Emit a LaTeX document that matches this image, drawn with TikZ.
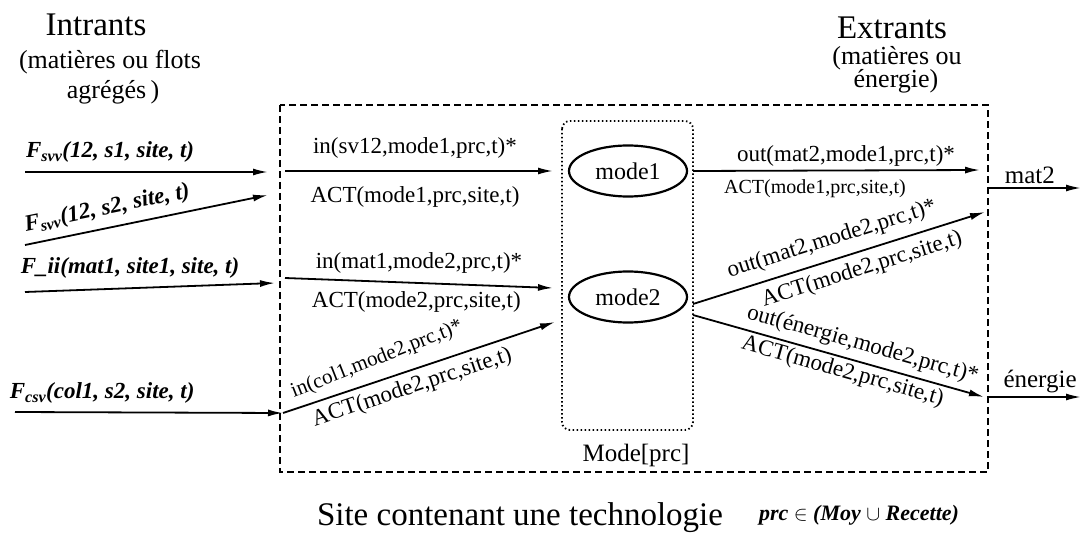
\documentclass[tikz,border=0pt]{standalone}
\usepackage{fontspec}
\setmainfont{Liberation Serif}
\usetikzlibrary{arrows.meta,shapes.geometric}
\begin{document}
\begin{tikzpicture}[x=1pt,y=-1pt,
  arr/.style={line width=1.8pt,-{Latex[length=15pt,width=7pt]}},
  lbl/.style={font=\fontsize{23}{26}\selectfont, inner sep=0pt, anchor=center},
  slbl/.style={font=\fontsize{20}{24}\selectfont, inner sep=0pt, anchor=center},
  flbl/.style={font=\fontsize{23}{26}\selectfont\bfseries\itshape, inner sep=0pt, anchor=center},
  head/.style={font=\fontsize{33}{36}\selectfont, inner sep=0pt},
  subhead/.style={font=\fontsize{26}{30}\selectfont, inner sep=0pt},
  outlbl/.style={font=\fontsize{25}{28}\selectfont, inner sep=0pt},
  sitebox/.style={line width=1.8pt, dash pattern=on 7pt off 4pt},
  modebox/.style={line width=1.8pt, dash pattern=on 1.5pt off 2.5pt, rounded corners=8pt},
  modeshape/.style={ellipse, draw, line width=2.2pt, minimum width=118pt, minimum height=51pt, inner sep=0pt, font=\fontsize{24}{26}\selectfont}
]
\useasboundingbox (0,0) rectangle (1083,537);

% headings
\node[head] (intr) at (96,25) {Intrants};
\node[subhead] (intr1) at (110,62) {(matières ou flots};
\node[subhead] (intr2) at (113,92) {agrégés\,)};
\node[head] (extr) at (892,28) {Extrants};
\node[subhead] (extr1) at (897,58) {(matières ou};
\node[subhead] (extr2) at (896,81) {énergie)};

% containers
\draw[sitebox] (280,105) rectangle (988,472);
\draw[modebox] (562,121) rectangle (693,430);
\node[outlbl] (modeprc) at (636,455) {Mode[prc]};

% modes
\node[modeshape] (mode1) at (628,171) {mode1};
\node[modeshape] (mode2) at (628,297) {mode2};

% coordinates
\coordinate (a1s) at (25,172);  \coordinate (a1e) at (268,172);
\coordinate (a2s) at (25,245);  \coordinate (a2e) at (268,195);
\coordinate (a3s) at (25,292);  \coordinate (a3e) at (275,283);
\coordinate (a4s) at (15,412);  \coordinate (a4e) at (283,413);
\coordinate (a5s) at (285,171); \coordinate (a5e) at (553,171);
\coordinate (a6s) at (285,278); \coordinate (a6e) at (553,288);
\coordinate (a7e) at (555,322);
\coordinate (a8s) at (693,171); \coordinate (a8e) at (980,170);
\coordinate (a9s) at (693,304); \coordinate (a9e) at (985,212);
\coordinate (a10s) at (693,315); \coordinate (a10e) at (984,397);
\coordinate (o1s) at (988,188); \coordinate (o1e) at (1081,188);
\coordinate (o2s) at (988,397); \coordinate (o2e) at (1081,397);

% inputs
\draw[arr] (a1s) -- node[flbl, pos=.35, yshift=20pt] (l1) {F\textsubscript{svv}(12, s1, site, t)} (a1e);
\draw[arr] (a2s) -- node[flbl, pos=.354, sloped, yshift=19pt] (l2) {F\textsubscript{svv}(12, s2, site, t)} (a2e);
\draw[arr] (a3s) -- node[flbl, pos=.42, yshift=20pt] (l3) {F\_ii(mat1, site1, site, t)} (a3e);
\draw[arr] (a4s) -- node[flbl, pos=.325, yshift=19pt] (l4) {F\textsubscript{csv}(col1, s2, site, t)} (a4e);

% inside, to modes
\draw[arr] (a5s) -- node[lbl, pos=.485, yshift=23pt] (l5a) {in(sv12,mode1,prc,t)*}
                   node[lbl, pos=.485, yshift=-26pt] (l5b) {ACT(mode1,prc,site,t)} (a5e);
\draw[arr] (a6s) -- node[lbl, pos=.5, yshift=20pt] (l6a) {in(mat1,mode2,prc,t)*}
                   node[lbl, pos=.49, yshift=-19.5pt] (l6b) {ACT(mode2,prc,site,t)} (a6e);
\draw[arr] (a4e) -- node[font=\fontsize{21}{24}\selectfont, inner sep=0pt, pos=.37, sloped, yshift=21pt, rotate=3] (l7a) {in(col1,mode2,prc,t)*}
                   node[lbl, pos=.455, sloped, yshift=-17pt] (l7b) {ACT(mode2,prc,site,t)} (a7e);

% outputs of modes
\draw[arr] (a8s) -- node[lbl, pos=.533, yshift=14pt] (l8a) {out(mat2,mode1,prc,t)*}
                   node[slbl, pos=.425, yshift=-18pt] (l8b) {ACT(mode1,prc,site,t)} (a8e);
\draw[arr] (a9s) -- node[lbl, pos=.496, sloped, yshift=20pt] (l9a) {out(mat2,mode2,prc,t)*}
                   node[lbl, pos=.56, sloped, yshift=-18pt] (l9b) {ACT(mode2,prc,site,t)} (a9e);
\draw[arr] (a10s) -- node[lbl, pos=.567, sloped, yshift=17pt] (l10a) {out(énergie,mode2,prc,t)*}
                    node[lbl, pos=.527, sloped, yshift=-14pt] (l10b) {ACT(mode2,prc,site,t)} (a10e);

% site outputs
\draw[arr] (o1s) -- node[outlbl, pos=.45, yshift=13pt] (mat2) {mat2} (o1e);
\draw[arr] (o2s) -- node[outlbl, pos=.56, yshift=15pt] (energie) {énergie} (o2e);

% bottom
\node[head] (site) at (520,518) {Site contenant une technologie};
\node[font=\fontsize{22}{24}\selectfont\bfseries\itshape, inner sep=0pt] (prc) at (859,515) {prc $\in$ (Moy $\cup$ Recette)};
\end{tikzpicture}
\end{document}
